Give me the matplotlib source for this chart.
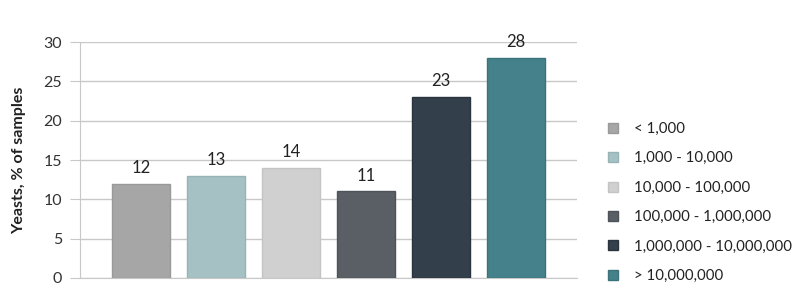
import matplotlib
matplotlib.use("Agg")
import matplotlib.pyplot as plt
from matplotlib.patches import Patch

categories = ["< 1,000", "1,000 - 10,000", "10,000 - 100,000", "100,000 - 1,000,000",
              "1,000,000 - 10,000,000", "> 10,000,000"]
values = [12, 13, 14, 11, 23, 28]
colors = ["#a6a6a6", "#a6c1c3", "#d0d0d0", "#5a5f66", "#333f4a", "#45818a"]
edges = ["#999999", "#98b3b5", "#c4c4c4", "#4e535a", "#2a343e", "#3c737b"]
yticks = [0, 5, 10, 15, 20, 25, 30]

plt.rcParams['font.family'] = ['Lato', 'DejaVu Sans']
fig = plt.figure(figsize=(8, 2.86), dpi=100)
ax = fig.add_axes([0.1, 0.028, 0.621, 0.825])

x = list(range(len(values)))
bars = ax.bar(x, values, width=0.77, color=colors, edgecolor=edges, linewidth=1, zorder=3)
for xi, v in zip(x, values):
    ax.text(xi, v + 1.0, str(v), ha='center', va='bottom', fontsize=12, color='#222222')

ax.set_xlim(-0.813, 5.813)
ax.set_ylim(0, 30)
ax.set_yticks(yticks)
ax.set_xticks([])
ax.grid(axis='y', color='#c8c8c8', linewidth=1, zorder=0)
for s in ['top', 'right']:
    ax.spines[s].set_visible(False)
ax.spines['left'].set_color('#c8c8c8')
ax.spines['bottom'].set_color('#c8c8c8')
ax.tick_params(axis='y', length=7, color='#c8c8c8', labelsize=11.5, labelcolor='#333333', pad=6)
ax.set_ylabel("Yeasts, % of samples", fontsize=11.5, fontweight='bold', color='#222222', labelpad=12)

handles = [Patch(facecolor=c, edgecolor=e) for c, e in zip(colors, edges)]
fig.legend(handles, categories, loc='upper left', bbox_to_anchor=(0.751, 0.6),
           frameon=False, fontsize=10.8, handlelength=0.65, handleheight=0.65,
           handletextpad=1.05, labelspacing=1.03, borderpad=0, labelcolor='#222222')

fig.savefig("out.png", dpi=100)
